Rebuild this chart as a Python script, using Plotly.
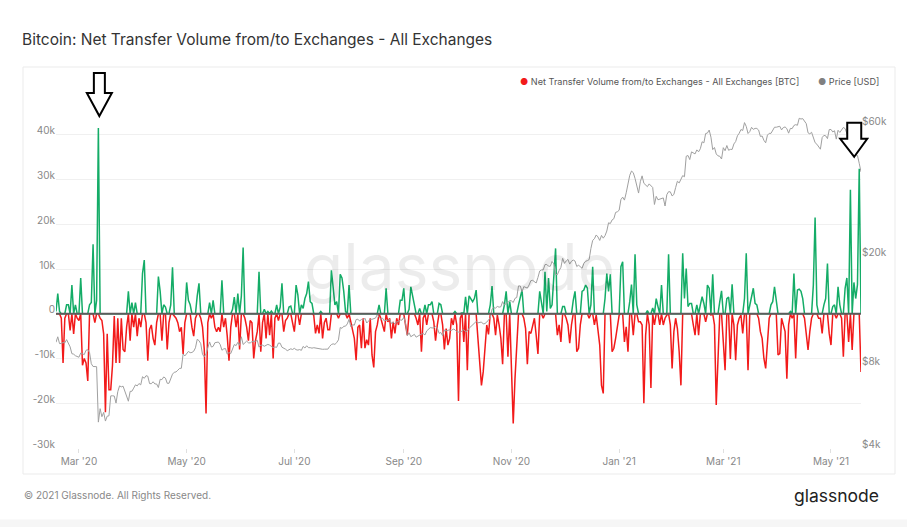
import math
import pandas as pd
import plotly.graph_objects as go

# ---------------- data ----------------
start_date = "2020-02-17"

# Net transfer volume from/to exchanges, thousands of BTC (daily)
net_part1 = [0.5, 4.5, 0.5, -1, -11, -1, 2, 2, -3.7, 6.4,
             -4.5, 2, -1, -1.5, 8, -11.5, -10, -11, -15, 2,
             2.5, 15.5, -2, 3, 41.5, -1, -1.5, -4.5, -22, -4.5,
             -17, -17, -11.5, -0.5, -11, -1, -11, -1, -8, -8.5,
             -3, 5, -6, 2.5, -3, 2.5, -5, -1, -3, 9,
             12, -2, -10.5, -3.5, -2.5, -5.5, -7, -2, 8.3, 5,
             -6, 2, 1.5, -8, -2, 2, 10.4, -0.5, -1, -2,
             -4, -3, -9, -2, 7, 3, 2, -3, -5, -1,
             4, 6.8, -1, -3, -8, -22.3, -2, 2.5, -1, 3,
             -3, -4, -3, -4, 7.5, -3, -1, -5, -10.5, -3,
             1, 3.7, -3, 4.5, -8, 4, 14.8, -1, -3, -6,
             -1.5, -2, -10, -6]
net_part2 = [-4, 9.4, -8.5, -2, 1, -5.5, 0.5, -4.8, 0.6, -10,
             -1, 2, -1.5, 1.5, 6.8, -4, -1.5, -1, 1.5, 1.7,
             -2.5, -4, 6.4, 4.2, -2.5, 2, 1.2, 3.4, 4.5, 7.2,
             2.7, 2.3, -0.3, -4.4, -2.5, -4.4, 0.5, -5.5, -2, -1,
             -3.6, -3.6, 9.7, 5, 2, 2.7, -1, 8.8, 8, 5,
             0.5, -1, 6.4, -1.8, -4, -5.5, -10.4, -3, -2.5, -7.7,
             -1, -7.7, -5.8, -7, -1, -9.2, -12, -4, -2.5, 2,
             -1, -2.5, -4, 5.7, -1.8, -1, -5.5, -1.8, -4.4, -1,
             -2.5, 3, 3, 5.7, -2.5, -4.8, 1, 6, 4.2, 2,
             -1, -2.5, 1.2, -8.5, -1, 2, -2.5, 2, 2, 2.7,
             -1.8, -6, -2.5, 2.3, 2, -2.5, -8, -3.3, -7, -5.5,
             -1, -2.5, 0.5]
net_part3 = [-2.5, -19.5, -1, 0.2, -6.3, 3.8, -12.6, 4, 3.4, 2.7,
             3.4, 5.3, -5.5, -10, -16, -13, -7.7, -2.5, -4.6, 2,
             6.2, -1, -4.8, -0.3, -2.5, -5.5, -11.3, 2, 5, -9.6,
             2.7, -12, -24.5, -14.5, -7, 2, 3.4, 5.3, -1, -3.3,
             -11.3, -4, -4.4, -2.5, -1, -4.8, -9, 5, 2.7, -1,
             9.4, 0.5, 8, 1.2, 2, 9.4, 14.6, -4.8, -2.5, -6.3,
             1.6, 1.6, -1, -2.5, -6.6, -2.5, 3, 5, -8.5, -7.7,
             -2.5, 5, 5.3, 6.4, 5.7, -1, 2, 10.5, -2.5, -0.3,
             -3.3, -7, -16, -17.8, 3.4, 9, 5, 8.8, -8.5, -7.7,
             -5.5, -2.5, -0.3, 10.5, 11.6, -6.3, -2.9, -8.5, 2.7, 6.5,
             -4.8, 13.3, 2, -1.8, -1.8, -2.5, -20, -4.8, 0.7, -2.5,
             -16.6]
net_part4 = [1.3, -2.5, 3.4, 1.6, -2.5, 6.4, -2.5, -1, -0.3, 13.3,
             -2.5, -12.2, -4, -1, -3.3, -8.5, -16, 13.5, 3.4, 10.1,
             1.6, 2.3, 2.3, -2.5, -4.8, 2, -4.8, 2, 3.8, 2.3,
             -1.8, 6.4, 5.7, -0.3, 8.8, -2.5, -20.4, -8.5, 2.7, 5.1,
             -7.7, -12.6, 3.4, 3.7, -10.1, 6.6, -2.5, -10.4, -2.5, -1,
             -0.3, -4.4, 3.4, 13.5, -12.6, 2, 3.4, 5.7, 2.3, 2,
             -1, -4, -5.5, -10, -12.2, -5.5, -1, 2, 2.7, 6,
             3.4, -9.2, -8.9, -1, -2.5, -4, -14.5, -2.5, 0.5, -1,
             9, -10, 5.3, 5.5, 5, 3.4, -1, -4, -8.1, -4,
             -1, 6.4, 21.5, 2, -1, -1, -4.4, 2, 3.4, 11.2,
             -4.4, -7, 1.6, 2, -1, 6, 2, -1, -9.6, 5.7,
             8, -6.3, 27.7, -8.1, 7, 3.4, 6.5, 32.4, -13]

# Bitcoin price, USD (daily)
price_2020_feb = [9706, 10164, 9600, 9608, 9686, 9663, 9925, 9651, 9342, 8820, 8785, 8672, 8599]
price_2020_mar = [8562, 8869, 8787, 8756, 9078, 9122, 8909, 8108, 7923, 7909,
                  7911, 4970, 5563, 5200, 5392, 5014, 5225, 5238, 6191, 6199,
                  6185, 5830, 6416, 6734, 6681, 6716, 6469, 6242, 5922, 6430, 6438]
price_2020_apr = [6607, 6794, 6733, 6868, 6792, 7271, 7176, 7335, 7302, 6866,
                  6859, 6971, 6845, 6842, 6642, 7116, 7096, 7257, 7189, 6882,
                  6880, 7117, 7429, 7550, 7570, 7679, 7795, 7807, 8801, 8658]
price_2020_may = [8864, 8988, 8897, 8912, 9003, 9268, 9951, 9842, 9593, 8756,
                  8601, 8804, 9269, 9733, 9328, 9377, 9670, 9726, 9729, 9523,
                  9081, 9182, 9209, 8790, 8906, 8835, 9181, 9525, 9439, 9700, 9461]
price_2020_jun = [10167, 9529, 9656, 9800, 9665, 9653, 9758, 9771, 9794, 9870,
                  9321, 9480, 9475, 9386, 9454, 9538, 9480, 9411, 9288, 9332,
                  9303, 9648, 9629, 9313, 9264, 9162, 9046, 9143, 9190, 9137]
price_2020_jul = [9228, 9123, 9088, 9132, 9073, 9375, 9252, 9428, 9277, 9278,
                  9240, 9276, 9243, 9243, 9192, 9132, 9151, 9159, 9185, 9164,
                  9374, 9525, 9581, 9536, 9677, 9905, 10990, 10912, 11100, 11111, 11323]
price_2020_aug = [11759, 11053, 11246, 11205, 11747, 11779, 11601, 11754, 11675, 11878,
                  11410, 11584, 11784, 11768, 11865, 11892, 12254, 11991, 11758, 11878,
                  11592, 11681, 11664, 11774, 11366, 11488, 11323, 11542, 11507, 11711, 11680]
price_2020_sep = [11970, 11414, 10245, 10511, 10169, 10280, 10370, 10131, 10242, 10363,
                  10400, 10443, 10323, 10680, 10796, 10974, 10948, 10944, 11094, 10938,
                  10462, 10538, 10246, 10760, 10692, 10750, 10775, 10709, 10845, 10784]
price_2020_oct = [10620, 10575, 10550, 10677, 10793, 10604, 10668, 10915, 11064, 11296,
                  11384, 11555, 11425, 11430, 11504, 11319, 11360, 11495, 11742, 11916,
                  12823, 12965, 12931, 13108, 13031, 13075, 13654, 13271, 13437, 13546, 13781]
price_2020_nov = [13737, 13550, 14029, 14133, 15579, 15565, 14833, 15479, 15332, 15290,
                  15701, 16276, 16317, 16068, 15955, 16716, 17645, 17804, 17817, 18621,
                  18642, 18370, 18364, 19107, 18732, 17150, 17108, 17718, 18177, 19625]
price_2020_dec = [18803, 19201, 19445, 18699, 19154, 19345, 19191, 18321, 18553, 18264,
                  18058, 18803, 19142, 19246, 19417, 21310, 22805, 23137, 23869, 23477,
                  22803, 23783, 23241, 23735, 24665, 26437, 26272, 27084, 27362, 28841, 29002]
price_2021_jan = [29374, 32127, 32782, 31971, 33992, 36824, 39371, 40797, 40254, 38356,
                  35566, 33923, 37316, 39187, 36825, 36178, 35792, 36631, 36070, 35548,
                  30825, 33005, 32067, 32289, 32366, 32570, 30432, 33467, 34316, 34269, 33114]
price_2021_feb = [33538, 35510, 37472, 36926, 38144, 39266, 38904, 46196, 46481, 44919,
                  47910, 47505, 47105, 48717, 47945, 49199, 52149, 51679, 55888, 56099,
                  57539, 54207, 48825, 49705, 47093, 46339, 46188, 45137]
price_2021_mar = [49631, 48378, 50538, 48561, 48927, 48912, 51206, 52246, 54824, 56008,
                  57805, 57333, 61243, 59302, 55907, 56804, 58870, 57858, 58346, 58313,
                  57523, 54529, 54738, 52774, 51704, 55137, 55974, 55947, 57750, 58918, 58918]
price_2021_apr = [59095, 59384, 57604, 58760, 59057, 58192, 56049, 58323, 58245, 59793,
                  60204, 59893, 63503, 63110, 63315, 61572, 60684, 56216, 55724, 56473,
                  53906, 51763, 51094, 50050, 49004, 54022, 55033, 54825, 53556, 57750]
price_2021_may = [57828, 56632, 57200, 53333, 57424, 56397, 57356, 58803, 58232, 55860,
                  56704, 49150, 49716, 49880, 46760, 46456, 43538, 40500]

left_tick_vals = [-30000, -20000, -10000, 0, 10000, 20000, 30000, 40000, 50000]
left_tick_text = ["-30k", "-20k", "-10k", "0", "10k", "20k", "30k", "40k", ""]
right_tick_vals = [4000, 8000, 20000, 60000]
right_tick_text = ["$4k", "$8k", "$20k", "$60k"]

title_text = "Bitcoin: Net Transfer Volume from/to Exchanges - All Exchanges"
net_name = "Net Transfer Volume from/to Exchanges - All Exchanges [BTC]"
price_name = "Price [USD]"

# ---------------- build ----------------
net_k = net_part1 + net_part2 + net_part3 + net_part4
net = [v * 1000 for v in net_k]
price = (price_2020_feb + price_2020_mar + price_2020_apr + price_2020_may + price_2020_jun +
         price_2020_jul + price_2020_aug + price_2020_sep + price_2020_oct + price_2020_nov +
         price_2020_dec + price_2021_jan + price_2021_feb + price_2021_mar + price_2021_apr +
         price_2021_may)
n = min(len(net), len(price))
net = net[:n]
price = price[:n]
dates = pd.date_range(start_date, periods=n, freq="D")

Y_MIN, Y_MAX = -30000, 50000

GREEN = "#14ac67"
RED = "#f21a1a"
GREY_PRICE = "#a0a0a0"
FONT = "Inter"

# pixel geometry of the plot box (used only to place decorations in paper units)
L, R, T, B = 56, 46, 90, 79
W, H = 907, 527
PW, PH = W - L - R, H - T - B


def px_to_paper_x(px):
    return (px - L) / PW


def px_to_paper_y(py):
    return (H - B - py) / PH


pos = [max(v, 0) for v in net]
neg = [min(v, 0) for v in net]

fig = go.Figure()
fig.add_trace(go.Scatter(x=dates, y=neg, mode="lines", line=dict(color=RED, width=1.5),
                         hoverinfo="skip", showlegend=False))
fig.add_trace(go.Scatter(x=dates, y=pos, mode="lines", line=dict(color=GREEN, width=1.5),
                         hoverinfo="skip", showlegend=False))
fig.add_trace(go.Scatter(x=dates, y=price, mode="lines", yaxis="y2",
                         line=dict(color=GREY_PRICE, width=1), showlegend=False))

# chart frame and bottom page strip
fig.add_shape(type="rect", xref="paper", yref="paper",
              x0=px_to_paper_x(23), x1=px_to_paper_x(895),
              y0=px_to_paper_y(474), y1=px_to_paper_y(67),
              line=dict(color="#ebebeb", width=1), fillcolor="rgba(0,0,0,0)", layer="below")
fig.add_shape(type="rect", xref="paper", yref="paper",
              x0=px_to_paper_x(-5), x1=px_to_paper_x(912),
              y0=px_to_paper_y(532), y1=px_to_paper_y(519.5),
              line=dict(width=0), fillcolor="#f6f6f6", layer="below")

# zero line
fig.add_shape(type="line", xref="paper", x0=0, x1=1, yref="y", y0=0, y1=0,
              line=dict(color="#5c5c5c", width=2.2), layer="above")

# arrows anchored (in paper units derived from the data) to the two biggest spikes
i_max = max(range(n), key=lambda i: net[i])
i_last = max(range(n - 30, n), key=lambda i: net[i])
arrow_paths = [
    (i_max, "M 1,12 L 13.5,35 L 6.5,35 L 6.5,55 L -4.5,55 L -4.5,35 L -11.5,35 Z"),
    (i_last, "M -5,12 L 8,30 L 2,30 L 2,46 L -12,46 L -12,30 L -19,30 Z"),
]
for idx, p in arrow_paths:
    fig.add_shape(type="path", xref="paper", yref="paper", xsizemode="pixel", ysizemode="pixel",
                  xanchor=idx / (n - 1), yanchor=(net[idx] - Y_MIN) / (Y_MAX - Y_MIN), path=p,
                  fillcolor="white", line=dict(color="black", width=2), layer="above")

# watermark
fig.add_annotation(text="glassnode", xref="paper", yref="paper", x=px_to_paper_x(459),
                   y=px_to_paper_y(266), yanchor="middle",
                   showarrow=False, font=dict(family=FONT, size=64, color="rgba(0,0,0,0.075)"))

# legend as text
fig.add_annotation(text=f'<span style="color:{RED}">●</span> {net_name}',
                   xref="paper", yref="paper", x=px_to_paper_x(801), y=px_to_paper_y(81),
                   xanchor="right", yanchor="middle",
                   showarrow=False, font=dict(family=FONT, size=9.1, color="#555"))
fig.add_annotation(text=f'<span style="color:#808080">●</span> {price_name}',
                   xref="paper", yref="paper", x=px_to_paper_x(881), y=px_to_paper_y(81),
                   xanchor="right", yanchor="middle",
                   showarrow=False, font=dict(family=FONT, size=9.1, color="#555"))

# footer
fig.add_annotation(text="© 2021 Glassnode. All Rights Reserved.", xref="paper", yref="paper",
                   x=px_to_paper_x(22), y=px_to_paper_y(495), xanchor="left", yanchor="middle",
                   showarrow=False, font=dict(family=FONT, size=10, color="#888"))
fig.add_annotation(text="glassnode", xref="paper", yref="paper",
                   x=px_to_paper_x(881), y=px_to_paper_y(495), xanchor="right", yanchor="middle",
                   showarrow=False, font=dict(family=FONT, size=17.5, color="#222"))

fig.update_layout(
    width=W, height=H,
    margin=dict(l=L, r=R, t=T, b=B),
    paper_bgcolor="white", plot_bgcolor="white",
    showlegend=False,
    title=dict(text=title_text, x=22 / W, xanchor="left", y=1 - 40 / H, yanchor="middle",
               xref="container", yref="container",
               font=dict(family=FONT, size=15.5, color="#333")),
    font=dict(family=FONT, size=10, color="#888"),
    xaxis=dict(type="date", range=[dates[0], dates[-1]], showgrid=False, zeroline=False,
               dtick="M2", tick0="2020-03-01", tickformat="%b '%y",
               ticks="outside", ticklen=4, tickcolor="#e0e0e0",
               tickfont=dict(family=FONT, size=10, color="#888"), showline=False),
    yaxis=dict(range=[Y_MIN, Y_MAX], tickvals=left_tick_vals, ticktext=left_tick_text,
               showgrid=True, gridcolor="#f0f0f0", zeroline=False, showline=False,
               tickfont=dict(family=FONT, size=10, color="#888"), ticklabelshift=-4),
    yaxis2=dict(type="log", range=[math.log10(4000), math.log10(80500)], overlaying="y",
                side="right", tickvals=right_tick_vals, ticktext=right_tick_text,
                showgrid=False, zeroline=False, showline=False,
                tickfont=dict(family=FONT, size=10, color="#888"), ticklabelshift=-4),
)

fig.write_html("out.html")
